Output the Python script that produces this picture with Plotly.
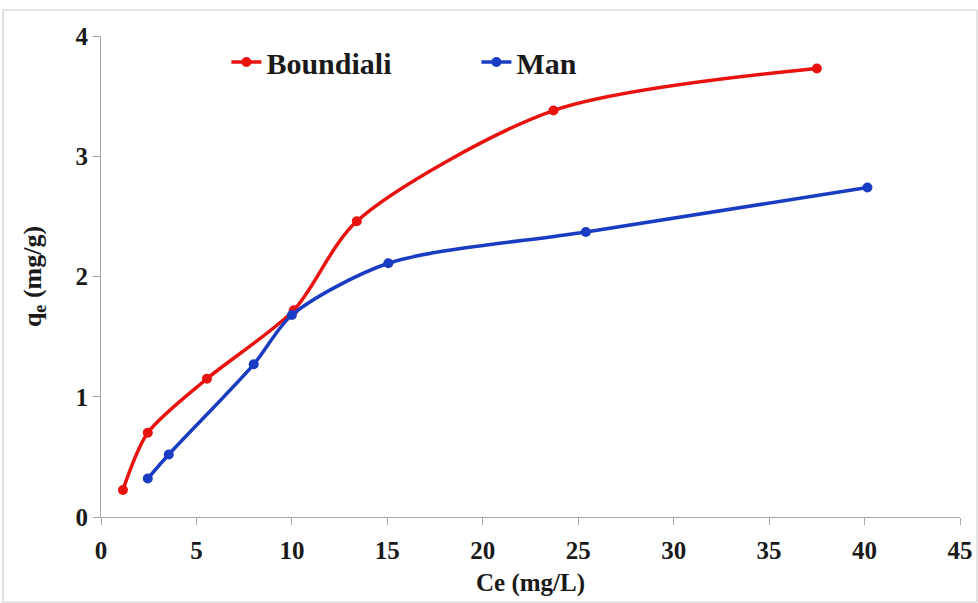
import plotly.graph_objects as go

boundiali_x = [1.15, 2.45, 5.55, 10.1, 13.4, 23.7, 37.5]
boundiali_y = [0.225, 0.70, 1.15, 1.72, 2.46, 3.38, 3.73]
man_x = [2.45, 3.55, 8.0, 10.0, 15.05, 25.4, 40.15]
man_y = [0.32, 0.52, 1.27, 1.68, 2.11, 2.37, 2.74]

x_ticks = [0, 5, 10, 15, 20, 25, 30, 35, 40, 45]
y_ticks = [0, 1, 2, 3, 4]

RED = "#e8130f"
BLUE = "#1a3cc2"
FONT = "Liberation Serif"
TXT = "#1a1a1a"

fig = go.Figure()
fig.add_trace(go.Scatter(x=boundiali_x, y=boundiali_y, mode="lines+markers", name="<b>Boundiali</b>",
                         line=dict(color=RED, width=3.5, shape="spline", smoothing=0.8),
                         marker=dict(color=RED, size=10)))
fig.add_trace(go.Scatter(x=man_x, y=man_y, mode="lines+markers", name="<b>Man</b>",
                         line=dict(color=BLUE, width=3.5, shape="spline", smoothing=0.8),
                         marker=dict(color=BLUE, size=10)))

axis_common = dict(showgrid=False, zeroline=False, showline=True, linecolor="#a6a6a6", linewidth=1.2,
                   ticks="outside", tickcolor="#a6a6a6", ticklen=7, automargin=False,
                   tickfont=dict(family=FONT, size=25, color=TXT))

fig.update_xaxes(range=[0, 45], tickvals=x_ticks, ticktext=[f"<b>{v}</b>" for v in x_ticks],
                 ticklabelstandoff=4,
                 title=dict(text="<b>Ce (mg/L)</b>", font=dict(family=FONT, size=25, color=TXT), standoff=10),
                 **axis_common)
fig.update_yaxes(range=[0, 4], tickvals=y_ticks, ticktext=[f"<b>{v}</b>" for v in y_ticks],
                 title=dict(text="<b>q<sub>e</sub> (mg/g)</b>", font=dict(family=FONT, size=26, color=TXT), standoff=26),
                 **axis_common)

fig.add_shape(type="rect", xref="paper", yref="paper",
              x0=(3 - 101) / 859, x1=(977 - 101) / 859, y0=(517 - 602) / 481, y1=(517 - 10) / 481,
              line=dict(color="#d0d0d0", width=1.2), fillcolor="rgba(0,0,0,0)", layer="below")

fig.update_layout(
    width=978, height=603,
    margin=dict(l=101, r=18, t=36, b=86),
    plot_bgcolor="white", paper_bgcolor="white",
    legend=dict(orientation="h", x=0.146, y=0.946, xanchor="left", yanchor="middle",
                font=dict(family=FONT, size=30, color=TXT),
                entrywidth=205, entrywidthmode="pixels", bgcolor="rgba(0,0,0,0)"),
)

fig.write_html("out.html")
